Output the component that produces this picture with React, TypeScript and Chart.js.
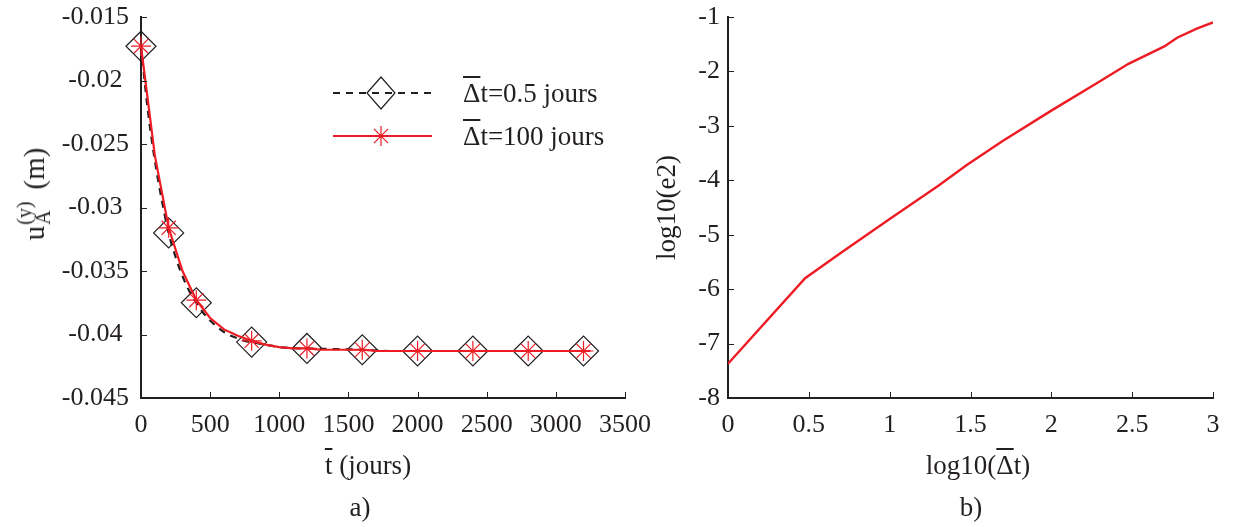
import React, { useEffect, useRef } from 'react';
import { Chart, registerables } from 'chart.js';

Chart.register(...registerables);

// ---------- Data (panel a) ----------
const fineTimes = [0, 50, 100, 150, 200, 250, 300, 350, 400, 450, 500, 550, 600, 650, 700, 750, 800, 850, 900, 950, 1000, 1200, 1400, 1600, 1800, 2000, 2200, 2400, 2600, 2800, 3000, 3200, 3250];
const fineValues = [-0.0173, -0.0224, -0.0263, -0.0294, -0.0320, -0.0339, -0.0354, -0.0366, -0.0375, -0.0383, -0.0389, -0.0394, -0.0398, -0.0401, -0.0403, -0.0405, -0.0406, -0.0407, -0.0408, -0.0409, -0.0410, -0.0411, -0.04115, -0.0412, -0.0413, -0.0413, -0.0413, -0.0413, -0.0413, -0.0413, -0.0413, -0.0413, -0.0413];
const coarseTimes = [0, 100, 200, 300, 400, 500, 600, 700, 800, 900, 1000, 1100, 1200, 1300, 1400, 1500, 1600, 1700, 1800, 1900, 2000, 2100, 2200, 2300, 2400, 2500, 2600, 2700, 2800, 2900, 3000, 3100, 3200, 3250];
const coarseValues = [-0.0173, -0.0259, -0.0316, -0.0350, -0.0373, -0.0387, -0.0396, -0.0401, -0.0405, -0.0408, -0.0410, -0.0411, -0.0411, -0.0412, -0.0412, -0.0412, -0.0412, -0.0413, -0.0413, -0.0413, -0.0413, -0.0413, -0.0413, -0.0413, -0.0413, -0.0413, -0.0413, -0.0413, -0.0413, -0.0413, -0.0413, -0.0413, -0.0413, -0.0413];
const markerTimes = [0, 200, 400, 800, 1200, 1600, 2000, 2400, 2800, 3200];
const legendSuffixes = ['t=0.5 jours', 't=100 jours'];

const xTicksA = [0, 500, 1000, 1500, 2000, 2500, 3000, 3500];
const xTickLabelsA = ['0', '500', '1000', '1500', '2000', '2500', '3000', '3500'];
const yTicksA = [-0.045, -0.04, -0.035, -0.03, -0.025, -0.02, -0.015];
const yTickLabelsA = ['-0.045', '-0.04', '-0.035', '-0.03', '-0.025', '-0.02', '-0.015'];

// ---------- Data (panel b) ----------
const logDt = [0, 0.477, 0.699, 1, 1.301, 1.477, 1.699, 2, 2.301, 2.477, 2.699, 2.778, 2.903, 3];
const logE2 = [-7.37, -5.80, -5.33, -4.71, -4.10, -3.72, -3.28, -2.72, -2.18, -1.86, -1.54, -1.38, -1.21, -1.10];

const xTicksB = [0, 0.5, 1, 1.5, 2, 2.5, 3];
const xTickLabelsB = ['0', '0.5', '1', '1.5', '2', '2.5', '3'];
const yTicksB = [-8, -7, -6, -5, -4, -3, -2, -1];
const yTickLabelsB = ['-8', '-7', '-6', '-5', '-4', '-3', '-2', '-1'];

const FONT = '"Liberation Serif", "Times New Roman", serif';
const INK = '#231f20';
const RED = '#ed1c24';

const inwardTicks = {
  id: 'inwardTicks',
  afterDatasetsDraw(chart: any) {
    const { ctx, chartArea, scales } = chart;
    ctx.save();
    ctx.strokeStyle = INK;
    ctx.lineWidth = 1;
    ctx.beginPath();
    scales.x.ticks.forEach((t: any) => {
      const px = Math.round(scales.x.getPixelForValue(t.value)) + 0.5;
      ctx.moveTo(px, chartArea.bottom);
      ctx.lineTo(px, chartArea.bottom - 6);
    });
    scales.y.ticks.forEach((t: any) => {
      const py = Math.round(scales.y.getPixelForValue(t.value)) + 0.5;
      ctx.moveTo(chartArea.left, py);
      ctx.lineTo(chartArea.left + 6, py);
    });
    ctx.stroke();
    ctx.restore();
  },
};

// legend samples (line + marker); legend texts are HTML
const legendSamples = {
  id: 'legendSamples',
  afterDraw(chart: any) {
    const { ctx, chartArea } = chart;
    const x0 = chartArea.left + 192;
    const x1 = chartArea.left + 291;
    const xm = chartArea.left + 240;
    const rows = [chartArea.top + 76, chartArea.top + 119];
    ctx.save();
    ctx.strokeStyle = INK;
    ctx.lineWidth = 2;
    ctx.setLineDash([7, 6]);
    ctx.beginPath();
    ctx.moveTo(x0, rows[0]);
    ctx.lineTo(x1, rows[0]);
    ctx.stroke();
    ctx.setLineDash([]);
    ctx.lineWidth = 1.2;
    ctx.beginPath();
    ctx.moveTo(xm - 14, rows[0]);
    ctx.lineTo(xm, rows[0] - 16);
    ctx.lineTo(xm + 14, rows[0]);
    ctx.lineTo(xm, rows[0] + 16);
    ctx.closePath();
    ctx.stroke();
    ctx.strokeStyle = RED;
    ctx.lineWidth = 2;
    ctx.beginPath();
    ctx.moveTo(x0, rows[1]);
    ctx.lineTo(x1, rows[1]);
    ctx.stroke();
    ctx.lineWidth = 1.2;
    const r = 10;
    ctx.beginPath();
    for (let k = 0; k < 4; k++) {
      const a = (k * Math.PI) / 4;
      ctx.moveTo(xm - Math.cos(a) * r, rows[1] - Math.sin(a) * r);
      ctx.lineTo(xm + Math.cos(a) * r, rows[1] + Math.sin(a) * r);
    }
    ctx.stroke();
    ctx.restore();
  },
};

function tickFont() {
  return { family: FONT, size: 26 };
}

function makeScales(opts: {
  xMin: number; xMax: number; xTicks: number[]; xLabels: string[];
  yMin: number; yMax: number; yTicks: number[]; yLabels: string[]; yTitle?: string;
  yWidth: number; yPad: number;
}) {
  return {
    x: {
      type: 'linear',
      min: opts.xMin,
      max: opts.xMax,
      afterBuildTicks: (s: any) => { s.ticks = opts.xTicks.map((v) => ({ value: v })); },
      afterFit: (s: any) => { s.height = 85; s.paddingLeft = 0; s.paddingRight = 0; },
      grid: { display: false, drawTicks: false },
      border: { display: true, color: INK, width: 2 },
      ticks: {
        color: INK,
        font: tickFont(),
        padding: 12,
        maxRotation: 0,
        autoSkip: false,
        callback: (_v: any, i: number) => opts.xLabels[i],
      },
      title: { display: false },
    },
    y: {
      type: 'linear',
      min: opts.yMin,
      max: opts.yMax,
      afterBuildTicks: (s: any) => { s.ticks = opts.yTicks.map((v) => ({ value: v })); },
      afterFit: (s: any) => { s.width = opts.yWidth; s.paddingTop = 0; s.paddingBottom = 0; },
      grid: { display: false, drawTicks: false },
      border: { display: true, color: INK, width: 2 },
      ticks: {
        color: INK,
        font: tickFont(),
        padding: opts.yPad,
        crossAlign: 'center',
        autoSkip: false,
        callback: (_v: any, i: number) => opts.yLabels[i],
      },
      title: opts.yTitle
        ? {
            display: true,
            text: opts.yTitle,
            color: INK,
            font: { family: FONT, size: 27 },
            padding: { top: 12, bottom: 4 },
          }
        : { display: false },
    },
  };
}

function PanelA() {
  const ref = useRef<HTMLCanvasElement | null>(null);
  useEffect(() => {
    if (!ref.current) return;
    const fine = fineTimes.map((t, i) => ({ x: t, y: fineValues[i] }));
    const coarse = coarseTimes.map((t, i) => ({ x: t, y: coarseValues[i] }));
    const fineMarks = markerTimes.map((t) => ({ x: t, y: fineValues[fineTimes.indexOf(t)] }));
    const coarseMarks = markerTimes.map((t) => ({ x: t, y: coarseValues[coarseTimes.indexOf(t)] }));
    const chart = new Chart(ref.current, {
      type: 'scatter',
      data: {
        datasets: [
          {
            label: 'stars',
            data: coarseMarks,
            showLine: false,
            pointStyle: 'star',
            pointRadius: 10,
            pointBorderColor: RED,
            pointBorderWidth: 1.2,
            pointBackgroundColor: RED,
            clip: false,
            order: 0,
          },
          {
            label: 'dt=100',
            data: coarse,
            showLine: true,
            borderColor: RED,
            borderWidth: 2.2,
            pointRadius: 0,
            tension: 0,
            order: 1,
          },
          {
            label: 'diamonds',
            data: fineMarks,
            showLine: false,
            pointStyle: 'rectRot',
            pointRadius: 15,
            pointBorderColor: INK,
            pointBorderWidth: 1.2,
            pointBackgroundColor: 'rgba(0,0,0,0)',
            clip: false,
            order: 2,
          },
          {
            label: 'dt=0.5',
            data: fine,
            showLine: true,
            borderColor: INK,
            borderWidth: 2.2,
            borderDash: [7, 6],
            pointRadius: 0,
            cubicInterpolationMode: 'monotone',
            order: 3,
          },
        ],
      } as any,
      options: {
        animation: false,
        responsive: false,
        maintainAspectRatio: false,
        events: [],
        layout: { padding: { left: 0, right: 35, top: 17, bottom: 44 } },
        plugins: { legend: { display: false }, tooltip: { enabled: false } },
        scales: makeScales({
          xMin: 0, xMax: 3500, xTicks: xTicksA, xLabels: xTickLabelsA,
          yMin: -0.045, yMax: -0.015, yTicks: yTicksA, yLabels: yTickLabelsA,
          yWidth: 141, yPad: 12,
        }) as any,
      },
      plugins: [inwardTicks, legendSamples],
    });
    return () => chart.destroy();
  }, []);
  return <canvas ref={ref} width={660} height={527} style={{ width: 660, height: 527, display: 'block' }} />;
}

function PanelB() {
  const ref = useRef<HTMLCanvasElement | null>(null);
  useEffect(() => {
    if (!ref.current) return;
    const pts = logDt.map((x, i) => ({ x, y: logE2[i] }));
    const chart = new Chart(ref.current, {
      type: 'scatter',
      data: {
        datasets: [
          {
            label: 'log10(e2)',
            data: pts,
            showLine: true,
            borderColor: RED,
            borderWidth: 2.4,
            pointRadius: 0,
            tension: 0,
          },
        ],
      } as any,
      options: {
        animation: false,
        responsive: false,
        maintainAspectRatio: false,
        events: [],
        layout: { padding: { left: 0, right: 20, top: 17, bottom: 44 } },
        plugins: { legend: { display: false }, tooltip: { enabled: false } },
        scales: makeScales({
          xMin: 0, xMax: 3, xTicks: xTicksB, xLabels: xTickLabelsB,
          yMin: -8, yMax: -1, yTicks: yTicksB, yLabels: yTickLabelsB, yTitle: 'log10(e2)',
          yWidth: 88, yPad: 8,
        }) as any,
      },
      plugins: [inwardTicks],
    });
    return () => chart.destroy();
  }, []);
  return <canvas ref={ref} width={593} height={527} style={{ width: 593, height: 527, display: 'block' }} />;
}

const bar: React.CSSProperties = { textDecoration: 'overline', textDecorationThickness: '1.5px' };

export default function App() {
  const text: React.CSSProperties = {
    position: 'absolute',
    fontFamily: FONT,
    fontSize: 27,
    color: INK,
    lineHeight: '32px',
    whiteSpace: 'nowrap',
  };
  const centered: React.CSSProperties = { ...text, transform: 'translate(-50%, -50%)' };
  return (
    <div style={{ position: 'fixed', left: 0, top: 0, width: 1233, height: 527, background: '#fff', overflow: 'hidden' }}>
      <div style={{ position: 'absolute', left: 0, top: 0 }}>
        <PanelA />
      </div>
      <div style={{ position: 'absolute', left: 640, top: 0 }}>
        <PanelB />
      </div>
      <div
        style={{
          position: 'absolute',
          left: 34,
          top: 194,
          transform: 'translate(-50%, -50%) rotate(-90deg)',
          fontFamily: FONT,
          fontSize: 29,
          color: INK,
          whiteSpace: 'nowrap',
          display: 'flex',
          alignItems: 'center',
          lineHeight: 1,
        }}
      >
        <span>u</span>
        <span style={{ display: 'inline-flex', flexDirection: 'column', fontSize: 20, lineHeight: '19px', marginLeft: 1 }}>
          <span>(y)</span>
          <span>A</span>
        </span>
        <span style={{ marginLeft: 12 }}>(m)</span>
      </div>
      <div style={{ ...text, left: 463, top: 93, transform: 'translateY(-50%)' }}>
        <span style={bar}>{'\u0394'}</span>{legendSuffixes[0]}
      </div>
      <div style={{ ...text, left: 463, top: 136, transform: 'translateY(-50%)' }}>
        <span style={bar}>{'\u0394'}</span>{legendSuffixes[1]}
      </div>
      <div style={{ ...centered, left: 368, top: 465 }}>
        <span style={bar}>t</span> (jours)
      </div>
      <div style={{ ...centered, left: 978, top: 465 }}>
        log10(<span style={bar}>{'\u0394'}</span>t)
      </div>
      <div style={{ ...centered, left: 360, top: 507 }}>a)</div>
      <div style={{ ...centered, left: 971, top: 507 }}>b)</div>
    </div>
  );
}
